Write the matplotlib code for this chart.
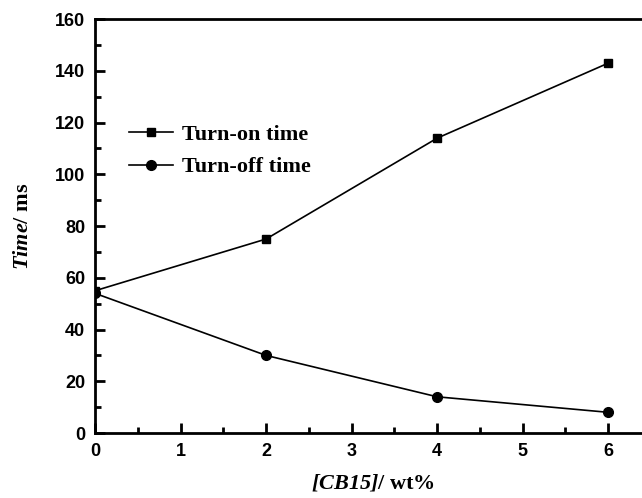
import numpy as np
import matplotlib
matplotlib.use("Agg")
import matplotlib.pyplot as plt
from matplotlib.ticker import MultipleLocator

# data
cb15 = [0, 2, 4, 6]
turn_on = [55, 75, 114, 143]
turn_off = [54, 30, 14, 8]

plt.rcParams['mathtext.fontset'] = 'custom'
plt.rcParams['mathtext.sf'] = 'Liberation Serif:italic:bold'
plt.rcParams['mathtext.rm'] = 'Liberation Serif:bold'

fig = plt.figure(figsize=(6.42, 4.98), dpi=100)
ax = fig.add_axes([0.148, 0.1305, 0.866, 0.831])

ax.plot(cb15, turn_on, '-s', color='black', lw=1.2, ms=6, label='Turn-on time')
ax.plot(cb15, turn_off, '-o', color='black', lw=1.2, ms=7, label='Turn-off time')

ax.set_xlim(0, 6.5)
ax.set_ylim(0, 160)
ax.xaxis.set_major_locator(MultipleLocator(1))
ax.xaxis.set_minor_locator(MultipleLocator(0.5))
ax.yaxis.set_major_locator(MultipleLocator(20))
ax.yaxis.set_minor_locator(MultipleLocator(10))
ax.set_xticks([0, 1, 2, 3, 4, 5, 6])

ax.tick_params(which='major', direction='in', length=7, width=2, pad=7)
ax.tick_params(which='minor', direction='in', length=4, width=2)
ax.tick_params(top=False, right=False, which='both')
for lab in ax.get_xticklabels() + ax.get_yticklabels():
    lab.set_fontfamily('Liberation Sans')
    lab.set_fontweight('bold')
    lab.set_fontsize(13)
for s in ax.spines.values():
    s.set_linewidth(2)

ax.set_xlabel(r'$\mathsf{[CB15]}$/ wt%', fontfamily='Liberation Serif',
              fontweight='bold', fontsize=16, labelpad=9)
ax.set_ylabel(r'$\mathsf{Time}$/ ms', fontfamily='Liberation Serif',
              fontweight='bold', fontsize=16, labelpad=16)

leg = ax.legend(loc='upper left', bbox_to_anchor=(0.025, 0.795), frameon=False,
                prop={'family': 'Liberation Serif', 'weight': 'bold', 'size': 16},
                handlelength=2.0, handletextpad=0.4, labelspacing=0.55)

fig.savefig('out.png', dpi=100)
